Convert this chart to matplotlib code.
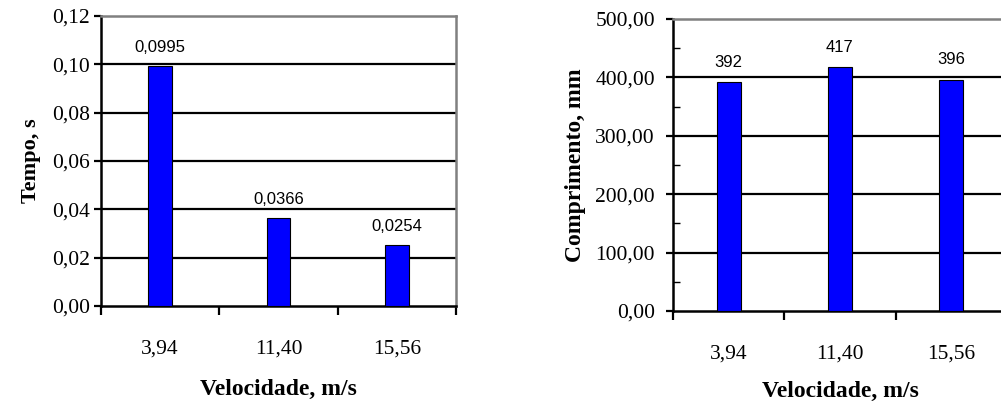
import matplotlib
matplotlib.use("Agg")
import matplotlib.pyplot as plt
import numpy as np

# data
velocidades = ["3,94", "11,40", "15,56"]
tempo = [0.0995, 0.0366, 0.0254]
tempo_labels = ["0,0995", "0,0366", "0,0254"]
comprimento = [392, 417, 396]
comprimento_labels = ["392", "417", "396"]

SERIF = ["Liberation Serif", "DejaVu Serif"]
SANS = ["Liberation Sans", "DejaVu Sans"]
BLUE = "#0000FF"
GREY = "#808080"


def style_axes(ax, yticks, yticklabels, ylim, minor=None):
    x = np.arange(len(velocidades))
    ax.set_xlim(-0.5, len(velocidades) - 0.5)
    ax.set_ylim(*ylim)
    # category labels at centres, tick marks at boundaries
    ax.set_xticks(x)
    ax.set_xticklabels(velocidades, family=SERIF, fontsize=15.5)
    ax.tick_params(axis="x", which="major", length=0, pad=24)
    ax.set_xticks(np.arange(-0.5, len(velocidades)), minor=True)
    ax.tick_params(axis="x", which="minor", length=6.5, width=1.6, direction="out")
    ax.set_yticks(yticks)
    ax.set_yticklabels(yticklabels, family=SERIF, fontsize=15.5)
    ax.tick_params(axis="y", which="major", length=5, width=1.6, direction="out", pad=3)
    if minor is not None:
        ax.set_yticks(minor, minor=True)
        ax.tick_params(axis="y", which="minor", length=5, width=1, direction="in")
    for y in yticks[1:-1]:
        ax.axhline(y, color="black", lw=1.6, zorder=1)
    ax.spines["left"].set_linewidth(1.8)
    ax.spines["bottom"].set_linewidth(1.8)
    ax.spines["top"].set_color(GREY)
    ax.spines["right"].set_color(GREY)
    ax.spines["top"].set_linewidth(1.8)
    ax.spines["right"].set_linewidth(1.8)


fig = plt.figure(figsize=(10.01, 4.03), dpi=100)

# ---- left chart: tempo
ax1 = fig.add_axes([0.1009, 0.2407, 0.3546, 0.7196])
x = np.arange(len(velocidades))
ax1.bar(x, tempo, width=0.2, color=BLUE, edgecolor="black", linewidth=0.8, zorder=3)
for xi, v, lab in zip(x, tempo, tempo_labels):
    ax1.annotate(lab, (xi, v), xytext=(0, 10), textcoords="offset points",
                 ha="center", va="baseline", family=SANS, fontsize=12)
yt1 = [0, 0.02, 0.04, 0.06, 0.08, 0.10, 0.12]
style_axes(ax1, yt1, ["0,00", "0,02", "0,04", "0,06", "0,08", "0,10", "0,12"], (0, 0.12))
ax1.set_xlabel("Velocidade, m/s", family=SERIF, fontsize=17, fontweight="bold", labelpad=15)
ax1.set_ylabel("Tempo, s", family=SERIF, fontsize=16, fontweight="bold", labelpad=8)

# ---- right chart: comprimento
ax2 = fig.add_axes([0.6723, 0.2283, 0.3337, 0.7246])
ax2.bar(x, comprimento, width=0.215, color=BLUE, edgecolor="black", linewidth=0.8, zorder=3)
for xi, v, lab in zip(x, comprimento, comprimento_labels):
    ax2.annotate(lab, (xi, v), xytext=(0, 11), textcoords="offset points",
                 ha="center", va="baseline", family=SANS, fontsize=12)
yt2 = [0, 100, 200, 300, 400, 500]
style_axes(ax2, yt2, ["0,00", "100,00", "200,00", "300,00", "400,00", "500,00"], (0, 500),
           minor=[50, 150, 250, 350, 450])
ax2.tick_params(axis="y", which="major", pad=8)
ax2.set_xlabel("Velocidade, m/s", family=SERIF, fontsize=17, fontweight="bold", labelpad=13)
ax2.set_ylabel("Comprimento, mm", family=SERIF, fontsize=17, fontweight="bold", labelpad=7)

fig.savefig("out.png", dpi=100)
